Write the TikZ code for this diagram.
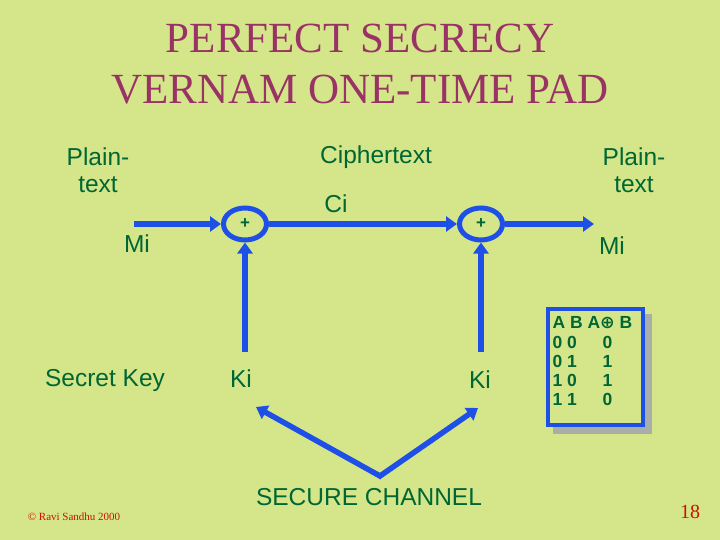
\documentclass[tikz,border=0pt]{standalone}
\usepackage{fontspec}
\setmainfont{Liberation Serif}
\setsansfont{Liberation Sans}
\newfontfamily\symfont{DejaVu Sans}
\usetikzlibrary{shapes.geometric, arrows.meta, positioning}
\definecolor{bgc}{HTML}{D5E68A}
\definecolor{ttl}{HTML}{993366}
\definecolor{grn}{HTML}{006633}
\definecolor{blu}{HTML}{1E4FE6}
\definecolor{red}{HTML}{CC1100}
\definecolor{shd}{HTML}{A8AFA8}
\tikzset{
  ttl/.style  = {font=\fontsize{43}{48}\selectfont, text=ttl, align=center},
  lbl/.style  = {font=\sffamily\fontsize{24.5}{27}\selectfont, text=grn, align=center},
  xor/.style  = {ellipse, draw=blu, line width=5pt, minimum width=43pt,
                 minimum height=32pt, inner sep=0pt,
                 font=\sffamily\bfseries\fontsize{17}{17}\selectfont, text=grn},
  arr/.style  = {-{Triangle[length=11pt,width=15pt]}, line width=5.5pt, color=blu},
  tbl/.style  = {font=\sffamily\bfseries\fontsize{17.5}{19}\selectfont, text=grn,
                 anchor=west},
  foot/.style = {text=red},
}

\begin{document}
\begin{tikzpicture}[x=1pt, y=-1pt]
  \fill[bgc] (0,0) rectangle (720,540);
  \useasboundingbox (0,0) rectangle (720,540);

  % title
  \node[ttl] (t1) at (360,38) {PERFECT SECRECY};
  \node[ttl] (t2) at (360,90) {VERNAM ONE-TIME PAD};

  % labels
  \node[lbl] (pL) at (98,170) {Plain-\\text};
  \node[lbl] (ct) at (376,157) {Ciphertext};
  \node[lbl] (pR) at (634,170) {Plain-\\text};
  \node[lbl] (ci) at (336,204) {Ci};
  \node[lbl] (mL) at (137,244) {Mi};
  \node[lbl] (mR) at (612,246) {Mi};
  \node[lbl] (sk) at (105,380) {Secret Key};
  \node[lbl] (kL) at (241,379) {Ki};
  \node[lbl] (kR) at (480,380) {Ki};
  \node[lbl] (sc) at (369,497) {SECURE CHANNEL};

  % xor gates
  \node[xor] (xL) at (245,224) {+};
  \node[xor] (xR) at (481,224) {+};

  \coordinate (inL)  at (134,224);
  \coordinate (outR) at (594,224);
  \coordinate (kbL)  at (245,352);
  \coordinate (kbR)  at (481,352);
  \coordinate (vb)   at (380,476);
  \coordinate (vL)   at (256,407);
  \coordinate (vR)   at (478,408);

  \draw[arr] (inL) -- (xL);
  \draw[arr] (xL) -- (xR);
  \draw[arr] (xR) -- (outR);
  \draw[arr] (kbL) -- (xL);
  \draw[arr] (kbR) -- (xR);
  \draw[arr, shorten <=-2pt] (vb) -- (vL);
  \draw[arr, shorten <=-2pt] (vb) -- (vR);

  % truth table
  \fill[shd] (553,314) rectangle (652,434);
  \node[draw=blu, line width=4pt, fill=bgc, minimum width=95pt,
        minimum height=116pt, inner sep=0pt] (tb) at (595.5,367) {};
  \node[tbl] (r0) at (549,323) {A B A{\symfont\bfseries ⊕} B};
  \node[tbl] (r1) at (549,342) {0 0 \hspace{16pt} 0};
  \node[tbl] (r2) at (549,361) {0 1 \hspace{16pt} 1};
  \node[tbl] (r3) at (549,380) {1 0 \hspace{16pt} 1};
  \node[tbl] (r4) at (549,399) {1 1 \hspace{16pt} 0};

  % footer
  \node[foot, font=\fontsize{11}{13}\selectfont] (cp) at (74,517) {\textcopyright{} Ravi Sandhu 2000};
  \node[foot, font=\fontsize{20}{24}\selectfont] (pg) at (690,512) {18};
\end{tikzpicture}
\end{document}
